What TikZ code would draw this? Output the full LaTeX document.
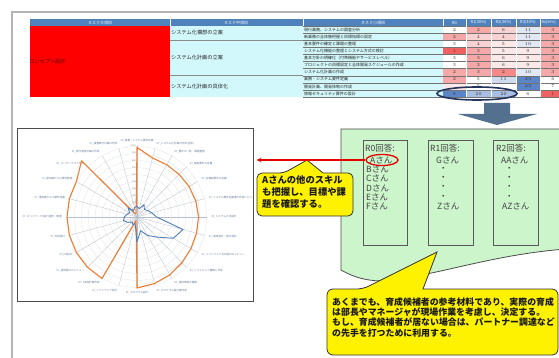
\documentclass[tikz,border=0pt]{standalone}
\usepackage{fontspec}
\newfontfamily\jp{Noto Sans CJK JP}
\usetikzlibrary{arrows.meta,shapes.geometric}
\definecolor{hdrblue}{HTML}{4F81BD}
\definecolor{cellcyan}{HTML}{D3F8FB}
\definecolor{framegray}{HTML}{B4B4B4}
\definecolor{greenbg}{HTML}{CCF5CC}
\definecolor{arrowblue}{HTML}{54708F}
\definecolor{navyring}{HTML}{22345C}
\definecolor{orangeL}{HTML}{ED7D31}
\definecolor{blueL}{HTML}{4F7FB8}
\definecolor{labblue}{HTML}{6A7F9C}
\definecolor{cRed}{HTML}{F06262}
\definecolor{cPk}{HTML}{F4A8A8}
\definecolor{cLp}{HTML}{F8D2D2}
\definecolor{cVlp}{HTML}{FBE8E8}
\definecolor{cWh}{HTML}{FFFFFF}
\definecolor{cLb}{HTML}{E2E7F4}
\definecolor{cMb}{HTML}{A9BEE3}
\definecolor{cDb}{HTML}{5B85C6}
\tikzset{
  hdr/.style={font=\jp\fontsize{4}{4.5}\selectfont, text=white, inner sep=0},
  tbl/.style={font=\jp\fontsize{4}{4.5}\selectfont, text=black!85, inner sep=0, anchor=west},
  midtxt/.style={font=\jp\fontsize{5.2}{6}\selectfont, text=black!85, inner sep=0, anchor=west},
  numtxt/.style={font=\fontsize{4.5}{5}\selectfont, text=black!80, inner sep=0},
  ans/.style={font=\jp\fontsize{8.5}{10}\selectfont, text=black!75, inner sep=0, anchor=west},
  ansbox/.style={fill=greenbg, draw=black!65, line width=0.8},
  callout/.style={fill=yellow, draw=black!80, line width=0.8},
  rlab/.style={font=\jp\fontsize{2.6}{3}\selectfont, text=labblue, inner sep=0.3},
  scl/.style={font=\fontsize{2.5}{3}\selectfont, text=black!60, inner sep=0.3, anchor=east},
}
\newcommand\nc[4]{%
  \pgfmathsetmacro\xl{{443,466,491,516,540}[#1]}%
  \pgfmathsetmacro\xr{{466,491,516,540,566}[#1]}%
  \pgfmathsetmacro\yt{26+7.1*(#2-1)}%
  \fill[#3] (\xl,\yt) rectangle (\xr,\yt+7.1);
  \node[numtxt] (n#1x#2) at ({(\xl+\xr)/2},\yt+3.7) {#4};}
\begin{document}
\begin{tikzpicture}[x=1pt,y=-1pt]
\useasboundingbox (0,0) rectangle (559,358);
\fill[white] (0,0) rectangle (559,358);
\draw[framegray, line width=2.2] (12,370) -- (12,12) -- (570,12);

% ---------- table ----------
\fill[hdrblue] (30,19) rectangle (566,26);
\foreach \x in {170,303,443,466,491,516,540} \draw[white, line width=0.4] (\x,19) -- (\x,26);
\node[hdr] (h1) at (100,22.6) {タスク大項目};
\node[hdr] (h2) at (236,22.6) {タスク中項目};
\node[hdr] (h3) at (373,22.6) {タスク小項目};
\node[hdr] (h4) at (454.5,22.6) {R0};
\node[hdr] (h5) at (478.5,22.6) {R1(30\%)};
\node[hdr] (h6) at (503.5,22.6) {R2(30\%)};
\node[hdr] (h7) at (528,22.6) {R3(30\%)};
\node[hdr, anchor=west, font=\jp\fontsize{3.6}{4}\selectfont] (h8) at (541.5,22.6) {R4(30\%)};

\fill[red] (30,26) rectangle (170,97);
\node[midtxt, text=red!35!black] (big) at (29,62) {コンセプト設計};
\fill[cellcyan] (170,26) rectangle (443,97);
\node[midtxt] (m1) at (171,33) {システム化構想の立案};
\node[midtxt] (m2) at (171,57.5) {システム化計画の立案};
\node[midtxt] (m3) at (171,86.5) {システム化計画の具体化};
\draw[black!45, line width=0.4] (170,40.2) -- (303,40.2) (170,75.7) -- (303,75.7);

\foreach \t [count=\i] in {現行業務、システムの調査分析,新業務の全体像把握と目標指標の設定,基本要件の確定と課題の整理,システム化機能の整理とシステム方式の検討,基本方針の明確化（付帯機能やサービスレベル）,プロジェクトの目標設定と全体開発スケジュールの作成,システム化計画の作成,業務・システム要件定義,開発計画、開発体制の作成,情報セキュリティ要件の設計}
  \node[tbl] (s\i) at (304,{26+7.1*(\i-1)+3.7}) {\t};

% numeric cells
\nc{0}{1}{cWh}{2}\nc{1}{1}{cPk}{2}\nc{2}{1}{cLp}{6}\nc{3}{1}{cLb}{11}\nc{4}{1}{cPk}{3}
\nc{0}{2}{cPk}{2}\nc{1}{2}{cLp}{4}\nc{2}{2}{cLp}{4}\nc{3}{2}{cLb}{11}\nc{4}{2}{cPk}{3}
\nc{0}{3}{cWh}{3}\nc{1}{3}{cLp}{4}\nc{2}{3}{cVlp}{5}\nc{3}{3}{cLb}{10}\nc{4}{3}{cPk}{3}
\nc{0}{4}{cRed}{1}\nc{1}{4}{cPk}{3}\nc{2}{4}{cVlp}{5}\nc{3}{4}{cVlp}{9}\nc{4}{4}{cPk}{3}
\nc{0}{5}{cWh}{3}\nc{1}{5}{cPk}{3}\nc{2}{5}{cVlp}{6}\nc{3}{5}{cVlp}{9}\nc{4}{5}{cPk}{3}
\nc{0}{6}{cWh}{3}\nc{1}{6}{cPk}{3}\nc{2}{6}{cVlp}{6}\nc{3}{6}{cVlp}{9}\nc{4}{6}{cPk}{3}
\nc{0}{7}{cPk}{2}\nc{1}{7}{cPk}{3}\nc{2}{7}{cRed!75}{2}\nc{3}{7}{cLb}{10}\nc{4}{7}{cPk}{3}
\nc{0}{8}{cPk}{2}\nc{1}{8}{cWh}{5}\nc{2}{8}{cLb!70!cMb}{11}\nc{3}{8}{cDb}{23}\nc{4}{8}{cWh}{6}
\nc{0}{9}{cVlp}{}\nc{1}{9}{cWh}{5}\nc{2}{9}{cWh}{}\nc{3}{9}{cDb}{23}\nc{4}{9}{cWh}{7}
\nc{0}{10}{cDb}{8}\nc{1}{10}{cMb}{20}\nc{2}{10}{cMb}{20}\nc{3}{10}{cWh}{6}\nc{4}{10}{cRed}{1}
\foreach \k in {0,...,10} \draw[black!55, line width=0.3] (303,{26+7.1*\k}) -- (566,{26+7.1*\k});
\foreach \x in {466,491,516,540} \draw[white, line width=0.5] (\x,26) -- (\x,97);
\draw[navyring, line width=1.6] (477,93.5) ellipse [x radius=40, y radius=6.5];

% ---------- big down arrow ----------
\fill[arrowblue] (484,103) -- (510,103) -- (510,114) -- (537,114) -- (497,125) -- (458,114) -- (484,114) -- cycle;

% ---------- radar chart ----------
\node[draw=black!70, fill=white, line width=1, minimum width=236, minimum height=172, inner sep=0] (chart) at (135,215) {};
\foreach \k in {10,20,...,100}
  \draw[black!12, line width=0.25] ({137},{217-0.71*\k}) \foreach \j in {1,...,23} { -- ({137+0.007*\k*100*sin(15*\j)},{217-0.0071*\k*100*cos(15*\j)}) } -- cycle;
\foreach \j in {0,...,23}
  \draw[labblue!50, line width=0.3] (137,217) -- ({137+70*sin(15*\j)},{217-71*cos(15*\j)});
\foreach \v in {10,20,...,100}
  \node[scl] (sc\v) at (136,{217-0.71*\v}) {\v};
\foreach \t [count=\i from 0] in {07\_業務・システム要件定義,07\_システム化計画の作成(全体),07\_要件の一覧・課題整理,07\_機能要件の定義,07\_非機能要件の定義,07\_システム要件定義書の作成レビュー,07\_システム方式設計,07\_運用設計・移行設計,07\_ソフトウェア方式設計のレビュー,07\_ソフトウェア構築と作成,07\_運用環境の構築,07\_プログラム設計書作成,07\_プログラム設計,07\_ソフトウェア設計,07\_DB設計書作成,07\_運用設計のレビュー,07\_DB設計,07\_外部設計,07\_ネットワーク設計(運用・障害),07\_運用面からの要件定義,07\_運用面からの要件整理,07\_ユーザーテスト仕様,07\_保守運用計画の作成,07\_業務移行計画の作成}{
  \pgfmathsetmacro\sn{sin(15*\i)}
  \pgfmathsetmacro\an{\sn>0.1 ? 1 : (\sn<-0.1 ? -1 : 0)}
  \ifdim\an pt>0pt \def\anc{west}\else\ifdim\an pt<0pt \def\anc{east}\else\def\anc{center}\fi\fi
  \node[rlab, anchor=\anc] (lab\i) at ({137+74*sin(15*\i)},{217-76*cos(15*\i)}) {\t};
}
\foreach \v [count=\i from 0] in {98,86,85,85,86,87,88,88,89,91,94,97,100,5,100,100,100,100,100,100,100,112,5,5}
  \coordinate (o\i) at ({137+0.7*\v*sin(15*\i)},{217-0.71*\v*cos(15*\i)});
\draw[orangeL, line width=1.1, line join=round] (o0) \foreach \i in {1,...,23} { -- (o\i) } -- cycle;
\foreach \v [count=\i from 0] in {15,12,20,15,18,22,28,68,60,40,30,20,35,10,12,10,15,20,18,15,12,18,10,14}
  \coordinate (b\i) at ({137+0.7*\v*sin(15*\i)},{217-0.71*\v*cos(15*\i)});
\draw[blueL, line width=0.9, line join=round] (b0) \foreach \i in {1,...,23} { -- (b\i) } -- cycle;

% ---------- green region ----------
\draw[fill=greenbg, draw=black!70, line width=0.8] (566,249) -- (566,129) -- (341,129) -- (341,270)
  .. controls (360,281) and (380,283) .. (400,279) .. controls (450,271) and (500,254) .. (566,249);
\draw[ansbox] (363,140) rectangle (407,245);
\draw[ansbox] (428,140) rectangle (473,245);
\draw[ansbox] (493,140) rectangle (538,245);

\node[ans] (r0) at (365,148) {R0回答:};
\node[ans] (a1) at (370,160) {Aさん};
\node[ans] (a2) at (366,169.3) {Bさん};
\node[ans] (a3) at (366,178.6) {Cさん};
\node[ans] (a4) at (366,187.9) {Dさん};
\node[ans] (a5) at (366,197.2) {Eさん};
\node[ans] (a6) at (366,206.5) {Fさん};

\node[ans] (r1) at (430,148) {R1回答:};
\node[ans] (g1) at (436,160) {Gさん};
\foreach \y [count=\k] in {169.3,178.6,187.9,197.2} \node[ans] (gd\k) at (439,\y) {・};
\node[ans] (g2) at (437,206.5) {Zさん};

\node[ans] (r2) at (496,148) {R2回答:};
\node[ans] (aa1) at (501,160) {AAさん};
\foreach \y [count=\k] in {169.3,178.6,187.9,197.2} \node[ans] (ad\k) at (505,\y) {・};
\node[ans] (aa2) at (502,206.5) {AZさん};

% ---------- callout 1 ----------
\draw[callout] (257,195) [rounded corners=5] -- (257,173) -- (284,173) [sharp corners] -- (307,160) -- (323,173) [rounded corners=5] -- (353,173) -- (353,216) -- (257,216) -- cycle;
\node[anchor=north west, align=left, inner sep=0, font=\jp\bfseries\fontsize{9.3}{12}\selectfont, text=black!90] (c1t) at (262,175) {Aさんの他のスキル\\も把握し、目標や課\\題を確認する。};

% red ellipse & arrow
\node[draw=red!90!black, line width=1.3, ellipse, minimum width=32, minimum height=11, inner sep=0] (ellA) at (382,160) {};
\draw[red!90!black, line width=1.1, -{Stealth[length=5,width=4.5]}] (ellA.west) -- ([xshift=3]ellA.west -| chart.east);

% ---------- callout 2 ----------
\draw[callout] (327,320) [rounded corners=6] -- (327,289) -- (363,289) [sharp corners] -- (437,252) -- (423,289) [rounded corners=6] -- (558,289) -- (558,355) -- (327,355) -- cycle;
\node[anchor=north west, align=left, inner sep=0, font=\jp\bfseries\fontsize{8.9}{10.2}\selectfont, text=black!90] (c2t) at (332,297.5) {あくまでも、育成候補者の参考材料であり、実際の育成\\は部長やマネージャが現場作業を考慮し、決定する。\\もし、育成候補者が居ない場合は、パートナー調達など\\の先手を打つために利用する。};
\end{tikzpicture}
\end{document}
